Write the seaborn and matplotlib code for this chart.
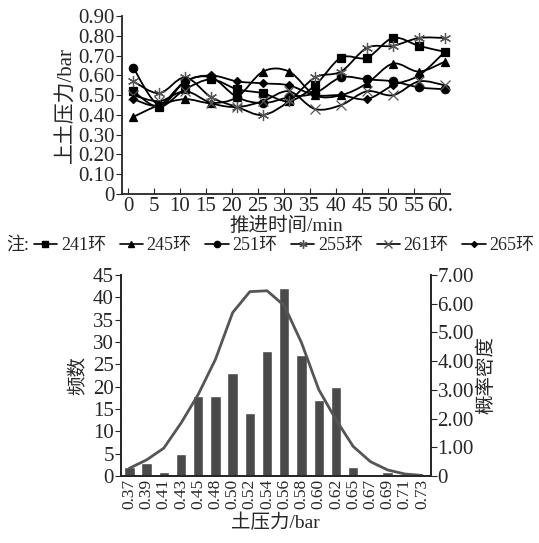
import numpy as np
import pandas as pd
import seaborn as sns
import matplotlib.pyplot as plt
from matplotlib.path import Path
from matplotlib.patches import PathPatch
from matplotlib.lines import Line2D

# dados do grafico de cima (pressao x tempo)
tempo = [1, 6, 11, 16, 21, 26, 31, 36, 41, 46, 51, 56, 61]
r241 = [0.52, 0.44, 0.53, 0.58, 0.53, 0.51, 0.47, 0.55, 0.69, 0.69, 0.79, 0.75, 0.72]
r245 = [0.39, 0.45, 0.48, 0.46, 0.49, 0.62, 0.62, 0.50, 0.50, 0.56, 0.66, 0.62, 0.67]
r251 = [0.64, 0.45, 0.57, 0.59, 0.49, 0.46, 0.49, 0.51, 0.59, 0.58, 0.57, 0.54, 0.53]
r255 = [0.57, 0.51, 0.59, 0.49, 0.44, 0.40, 0.47, 0.59, 0.62, 0.74, 0.75, 0.79, 0.79]
r261 = [0.50, 0.47, 0.52, 0.46, 0.44, 0.47, 0.52, 0.43, 0.45, 0.52, 0.50, 0.57, 0.55]
r265 = [0.48, 0.45, 0.57, 0.60, 0.57, 0.56, 0.55, 0.50, 0.50, 0.48, 0.55, 0.60, 0.72]
nomes = ['241环', '245环', '251环', '255环', '261环', '265环']

# dados do histograma
classes = ['0.37', '0.39', '0.41', '0.43', '0.45', '0.48', '0.50', '0.52', '0.54',
           '0.56', '0.58', '0.60', '0.62', '0.65', '0.67', '0.69', '0.71', '0.73']
freq = [2, 3, 1, 5, 18, 18, 23, 14, 28, 42, 27, 17, 20, 2, 0, 1, 0, 0]
densidade = [0.27, 0.56, 0.97, 1.84, 2.84, 4.06, 5.69, 6.42, 6.45,
             5.93, 4.64, 3.01, 1.96, 1.03, 0.50, 0.21, 0.07, 0.02]

sns.set_style('ticks')
plt.rcParams['font.family'] = ['Liberation Serif', 'Noto Sans CJK SC']
plt.rcParams['font.size'] = 12

series = [r241, r245, r251, r255, r261, r265]
marcadores = ['s', '^', 'o', (6, 2, 0), 'x', 'D']
tam = [6, 6, 6, 8, 7, 4]
cores = ['black', 'black', 'black', '#555555', '#555555', 'black']


def curva(xs, ys):
    # curva suave tipo excel (catmull-rom -> bezier)
    p = np.column_stack([xs, ys]).astype(float)
    n = len(p)
    verts = [p[0]]
    codes = [Path.MOVETO]
    for i in range(n - 1):
        p0 = p[max(i - 1, 0)]
        p1 = p[i]
        p2 = p[i + 1]
        p3 = p[min(i + 2, n - 1)]
        verts += [p1 + (p2 - p0) / 6, p2 - (p3 - p1) / 6, p2]
        codes += [Path.CURVE4] * 3
    return Path(verts, codes)


fig = plt.figure(figsize=(5.39, 5.43), dpi=100)
ax = fig.add_axes([0.226, 0.643, 0.609, 0.327])

df = pd.DataFrame({'tempo': tempo * 6,
                   'valor': sum(series, []),
                   'anel': sum([[n] * len(tempo) for n in nomes], [])})

for nome, ys, m, s, c in zip(nomes, series, marcadores, tam, cores):
    ax.add_patch(PathPatch(curva(tempo, ys), facecolor='none', edgecolor='black', lw=1.3))
    sub = df[df['anel'] == nome]
    sns.lineplot(data=sub, x='tempo', y='valor', ax=ax, linestyle='none', marker=m,
                 markersize=s, color=c, markeredgecolor=c, markeredgewidth=0.9)

ax.set_xlim(-1.2, 62)
ax.set_ylim(0, 0.9)
ax.set_xticks(range(0, 61, 5))
ax.set_xticklabels([str(v) for v in range(0, 60, 5)] + ['60.'])
ax.set_yticks(np.arange(0, 0.91, 0.1))
ax.set_yticklabels(['0'] + [f'{v:.2f}' for v in np.arange(0.1, 0.91, 0.1)])
ax.tick_params(axis='x', direction='in', length=4, pad=2, labelsize=15)
ax.tick_params(axis='y', direction='out', length=4, pad=1, labelsize=15)
ax.set_xlabel('推进时间/min', fontsize=14, labelpad=1)
ax.set_ylabel('上土压力/bar', fontsize=15, labelpad=2)
sns.despine(ax=ax)
for sp in ax.spines.values():
    sp.set_linewidth(1.3)

# legenda
handles = [Line2D([], [], color='black', lw=1.2, marker=m, markersize=s * 0.75,
                  markerfacecolor=c, markeredgecolor=c)
           for m, s, c in zip(marcadores, tam, cores)]
fig.legend(handles, nomes, loc='center', bbox_to_anchor=(0.527, 0.548), ncol=6,
           frameon=False, handlelength=1.3, handletextpad=0.2, columnspacing=0.75,
           fontsize=13, borderpad=0)
fig.text(0.012, 0.548, '注:', fontsize=13, va='center', ha='left')

# histograma
ax2 = fig.add_axes([0.224, 0.1234, 0.575, 0.3702])
dfh = pd.DataFrame({'classe': classes, 'freq': freq})
sns.barplot(data=dfh, x='classe', y='freq', ax=ax2, color='#4a4a4a', width=0.6,
            saturation=1)
ax2.set_xlim(-0.5, len(classes) - 0.5)
ax2.set_ylim(0, 45)
ax2.set_yticks(range(0, 46, 5))
ax2.tick_params(axis='x', length=0, rotation=90, labelsize=12.5, pad=2)
ax2.tick_params(axis='y', direction='out', length=4, pad=1, labelsize=15)
ax2.set_xlabel('土压力/bar', fontsize=14, labelpad=3)
ax2.set_ylabel('频数', fontsize=14, labelpad=4)

ax3 = ax2.twinx()
sns.lineplot(x=np.arange(len(classes)), y=densidade, ax=ax3, color='#555555', lw=2)
ax3.set_ylim(0, 7)
ax3.set_yticks(range(0, 8))
ax3.set_yticklabels(['0'] + [f'{v:.2f}' for v in range(1, 8)])
ax3.tick_params(axis='y', direction='out', length=4, pad=1, labelsize=15)
ax3.set_ylabel('概率密度', fontsize=14, labelpad=2)
for a in (ax2, ax3):
    a.spines['top'].set_visible(False)
    for sp in a.spines.values():
        sp.set_linewidth(1.3)

fig.savefig('out.png', dpi=100)
